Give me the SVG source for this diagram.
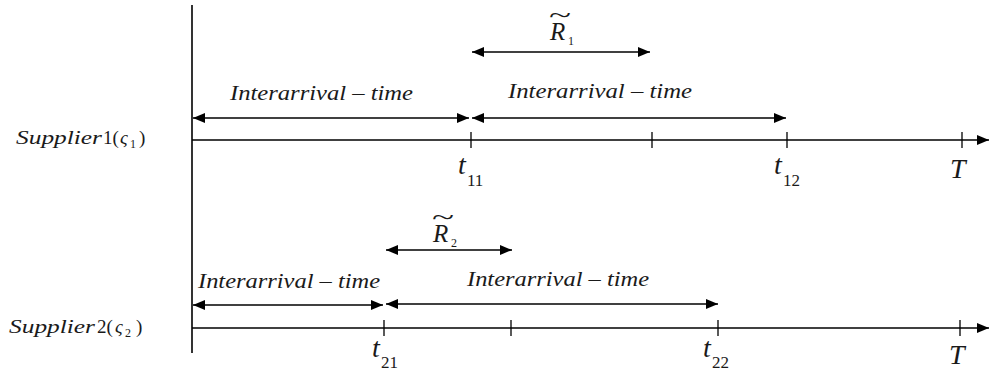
<svg xmlns="http://www.w3.org/2000/svg" width="990" height="372" viewBox="0 0 990 372">
  <style>
    .ln { stroke: #000; stroke-width: 1.6; fill: none; }
    .tk { stroke: #000; stroke-width: 1.3; }
    .it { font-family: "Liberation Serif", "DejaVu Serif", serif; font-style: italic; fill: #1a1a1a; }
    .up { font-family: "Liberation Serif", "DejaVu Serif", serif; font-style: normal; fill: #1a1a1a; }
    .lbl { font-size: 20px; }
  </style>
  <defs>
    <marker id="ah" viewBox="0 0 12 10" refX="12" refY="5" markerWidth="12" markerHeight="10" markerUnits="userSpaceOnUse" orient="auto-start-reverse">
      <path d="M0,0 L12,5 L0,10 z" fill="#000"/>
    </marker>
  </defs>

  <rect width="990" height="372" fill="#fff"/>

  <!-- axes and time intervals -->
  <g id="connectors">
    <line class="ln" x1="192" y1="5" x2="192" y2="353"/>

    <!-- supplier 1 timeline -->
    <line class="ln" x1="192" y1="140" x2="989" y2="140" marker-end="url(#ah)"/>
    <line class="tk" x1="471" y1="132" x2="471" y2="148"/>
    <line class="tk" x1="652" y1="132" x2="652" y2="148"/>
    <line class="tk" x1="787" y1="132" x2="787" y2="148"/>
    <line class="tk" x1="962" y1="132" x2="962" y2="148"/>
    <line class="ln" x1="193" y1="118" x2="469" y2="118" marker-start="url(#ah)" marker-end="url(#ah)"/>
    <line class="ln" x1="472" y1="118" x2="786" y2="118" marker-start="url(#ah)" marker-end="url(#ah)"/>
    <line class="ln" x1="472" y1="52" x2="650" y2="52" marker-start="url(#ah)" marker-end="url(#ah)"/>

    <!-- supplier 2 timeline -->
    <line class="ln" x1="192" y1="328" x2="989" y2="328" marker-end="url(#ah)"/>
    <line class="tk" x1="384" y1="320" x2="384" y2="336"/>
    <line class="tk" x1="511" y1="320" x2="511" y2="336"/>
    <line class="tk" x1="718" y1="320" x2="718" y2="336"/>
    <line class="tk" x1="960" y1="320" x2="960" y2="336"/>
    <line class="ln" x1="193" y1="305" x2="383" y2="305" marker-start="url(#ah)" marker-end="url(#ah)"/>
    <line class="ln" x1="386" y1="304" x2="718" y2="304" marker-start="url(#ah)" marker-end="url(#ah)"/>
    <line class="ln" x1="386" y1="250" x2="512" y2="250" marker-start="url(#ah)" marker-end="url(#ah)"/>
  </g>

  <!-- supplier names -->
  <g id="supplier1">
    <text class="it" x="16" y="144" font-size="19" textLength="86" lengthAdjust="spacingAndGlyphs">Supplier</text>
    <text class="up" x="103" y="144" font-size="19">1(</text>
    <text class="it" x="120" y="144" font-size="19">ς</text>
    <text class="up" x="130" y="148" font-size="12">1</text>
    <text class="up" x="139" y="144" font-size="19">)</text>
  </g>
  <g id="supplier2">
    <text class="it" x="9" y="333" font-size="19" textLength="86" lengthAdjust="spacingAndGlyphs">Supplier</text>
    <text class="up" x="97" y="333" font-size="19">2(</text>
    <text class="it" x="115" y="333" font-size="19">ς</text>
    <text class="up" x="125" y="337" font-size="12">2</text>
    <text class="up" x="136" y="333" font-size="19">)</text>
  </g>

  <!-- interval labels -->
  <g id="interval-labels">
    <text class="it lbl" x="230" y="100" textLength="183" lengthAdjust="spacingAndGlyphs">Interarrival – time</text>
    <text class="it lbl" x="508" y="98" textLength="184" lengthAdjust="spacingAndGlyphs">Interarrival – time</text>
    <text class="it lbl" x="198" y="288" textLength="182" lengthAdjust="spacingAndGlyphs">Interarrival – time</text>
    <text class="it lbl" x="467" y="286" textLength="182" lengthAdjust="spacingAndGlyphs">Interarrival – time</text>
  </g>

  <!-- residual times: R with tilde accent above -->
  <g id="r1">
    <text class="up" x="549" y="23" font-size="24" textLength="22" lengthAdjust="spacingAndGlyphs">~</text>
    <text class="it" x="550" y="40" font-size="25">R</text>
    <text class="up" x="568" y="45" font-size="12">1</text>
  </g>
  <g id="r2">
    <text class="up" x="432" y="225" font-size="24" textLength="22" lengthAdjust="spacingAndGlyphs">~</text>
    <text class="it" x="433" y="242" font-size="25">R</text>
    <text class="up" x="451" y="247" font-size="12">2</text>
  </g>

  <!-- time marks -->
  <g id="t11">
    <text class="it" x="458" y="174" font-size="28">t</text>
    <text class="up" x="467" y="186" font-size="17">11</text>
  </g>
  <g id="t12">
    <text class="it" x="774" y="174" font-size="28">t</text>
    <text class="up" x="783" y="186" font-size="17">12</text>
  </g>
  <g id="T1">
    <text class="it" x="950" y="178" font-size="28">T</text>
  </g>
  <g id="t21">
    <text class="it" x="372" y="357" font-size="28">t</text>
    <text class="up" x="381" y="368" font-size="17">21</text>
  </g>
  <g id="t22">
    <text class="it" x="703" y="357" font-size="28">t</text>
    <text class="up" x="712" y="368" font-size="17">22</text>
  </g>
  <g id="T2">
    <text class="it" x="949" y="364" font-size="28">T</text>
  </g>
</svg>
